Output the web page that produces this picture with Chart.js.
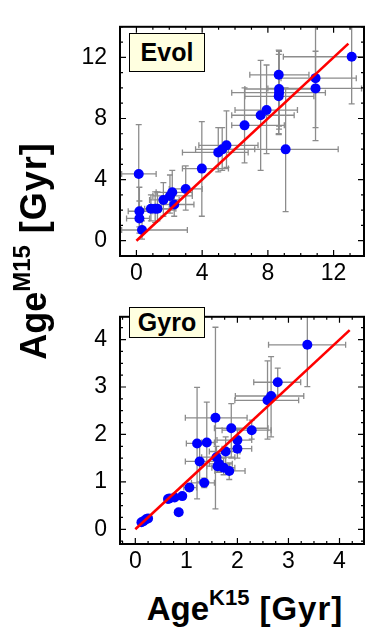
<!DOCTYPE html>
<html>
<head>
<meta charset="utf-8">
<script src="https://cdn.jsdelivr.net/npm/chart.js@4.4.0/dist/chart.umd.min.js"></script>
<style>
  html, body { margin:0; padding:0; background:#fff; }
  #wrap { position:relative; width:369px; height:633px; overflow:hidden; font-family:"Liberation Sans", Arial, sans-serif; }
  canvas { position:absolute; left:0; }
  .tag { position:absolute; box-sizing:border-box; border:1.5px solid #000; background:#ffffe0;
         font-weight:bold; font-size:25px; text-align:center; color:#000; }
  .title { position:absolute; font-weight:bold; font-size:33px; line-height:32px; white-space:nowrap; color:#000; text-align:center; width:300px; }
  .title .sup { font-size:22px; position:relative; top:-15px; }
  .title .unit { padding-left:10px; letter-spacing:1px; }
  #yt { font-size:36px; }
  #yt .sup { font-size:24px; top:-16px; }
  #yt .unit { padding-left:12px; }
</style>
</head>
<body>
<div id="wrap">
  <canvas id="c1" width="369" height="290" style="top:0"></canvas>
  <canvas id="c2" width="369" height="290" style="top:290px"></canvas>
  <div class="tag" style="left:129px; top:33px; width:76px; height:39px; line-height:36px;">Evol</div>
  <div class="tag" style="left:129px; top:307px; width:76px; height:31px; line-height:28px;">Gyro</div>
  <div class="title" id="xt" style="left:95px; top:593px;">Age<span class="sup">K15</span><span class="unit">[Gyr]</span></div>
  <div class="title" id="yt" style="left:-114px; top:233px; transform:rotate(-90deg);">Age<span class="sup">M15</span><span class="unit">[Gyr]</span></div>
</div>
<script>
// ---------- Evol panel data ----------
const evolX   = [0.14,0.18,0.18,0.34,0.88,1.14,1.28,1.64,2.04,2.18,2.30,3.00,3.98,4.98,5.22,5.48,6.58,7.56,7.92,8.66,8.68,8.68,8.66,9.08,10.9,10.9,13.1];
const evolY   = [4.37,1.93,1.46,0.70,2.09,2.09,2.09,2.67,2.93,3.17,2.37,3.39,4.72,5.78,5.98,6.24,7.55,8.21,8.55,10.86,9.93,9.69,9.45,5.98,10.64,9.97,12.04];
const evolXLo = [-0.9,-0.5,-0.6,-0.9,0.3,0.5,0.3,0.8,1.0,1.2,1.5,2.0,2.8,2.8,3.6,3.8,5.8,5.8,6.0,6.9,6.6,5.8,6.6,5.6,8.8,8.0,8.94];
const evolXHi = [1.2,1.0,0.8,3.1,1.5,2.0,2.4,2.6,3.4,3.4,3.5,4.0,5.6,6.8,7.2,7.4,9.0,9.6,9.8,10.5,11.0,11.5,10.8,12.28,13.38,13.7,14.5];
const evolYLo = [1.3,0.9,0.5,0.1,1.3,1.2,1.3,1.6,1.8,2.0,1.6,2.0,1.6,4.5,4.6,4.8,5.1,4.6,5.7,6.95,7.5,7.3,7.0,1.9,6.55,7.4,8.95];
const evolYHi = [7.6,3.5,2.6,1.3,3.0,3.2,3.2,3.8,4.3,4.6,3.1,4.9,7.8,7.4,7.4,8.5,10.0,11.8,11.5,12.47,12.4,12.4,12.2,10.0,14.5,12.4,14.5];
const evolFitX = [0, 12.9];
const evolFitY = [0, 12.9];
const evolTicks = [0, 4, 8, 12];

// ---------- Gyro panel data ----------
const gyroX   = [3.37,2.79,2.66,2.59,1.57,1.88,2.28,1.21,1.40,2.00,2.00,1.77,1.26,1.59,1.64,1.73,1.84,1.61,1.35,1.06,0.92,0.77,0.67,0.64,0.85,0.16,0.21,0.25,0.12];
const gyroY   = [3.89,3.10,2.81,2.72,2.35,2.13,2.09,1.81,1.83,1.88,1.70,1.64,1.43,1.52,1.38,1.30,1.23,1.33,0.98,0.88,0.70,0.67,0.65,0.64,0.36,0.17,0.21,0.23,0.15];
const gyroXLo = [2.61,2.32,1.96,1.95,0.98,1.55,1.70,1.00,1.30,1.60,1.70,1.45,0.98,1.30,1.45,1.50,1.56,1.40,1.10,0.95,0.92,0.77,0.67,0.64,0.78,0.16,0.21,0.25,0.12];
const gyroXHi = [4.12,3.24,3.30,3.20,2.19,2.60,2.66,1.45,1.55,2.28,2.28,2.05,1.57,1.95,1.90,1.95,2.15,1.85,1.55,1.20,0.92,0.77,0.67,0.64,0.92,0.16,0.21,0.25,0.12];
const gyroYLo = [3.01,2.83,1.95,1.90,0.43,1.50,1.90,0.64,1.00,1.65,1.50,1.35,1.00,1.30,1.20,1.15,1.05,1.20,0.88,0.80,0.70,0.67,0.65,0.64,0.36,0.17,0.21,0.23,0.15];
const gyroYHi = [4.60,3.40,3.64,3.55,4.26,2.65,2.30,2.99,2.68,2.10,1.90,1.95,1.80,1.75,1.60,1.50,1.40,1.50,1.08,0.95,0.70,0.67,0.65,0.64,0.36,0.17,0.21,0.23,0.15];
const gyroFitX = [0, 4.2];
const gyroFitY = [0, 4.2];
const gyroTicks = [0, 1, 2, 3, 4];

const FONT = "'Liberation Sans', Arial, sans-serif";

function decoPlugin(err, minorStep) {
  return {
    id: 'deco',
    beforeDatasetsDraw(chart) {
      const {ctx, chartArea: a, scales: {x, y}} = chart;
      ctx.save();
      ctx.beginPath(); ctx.rect(a.left, a.top, a.right - a.left, a.bottom - a.top); ctx.clip();
      ctx.strokeStyle = '#8c8c8c'; ctx.lineWidth = 1.3;
      const cap = 3;
      for (let i = 0; i < err.x.length; i++) {
        const px = x.getPixelForValue(err.x[i]), py = y.getPixelForValue(err.y[i]);
        if (err.xhi[i] > err.xlo[i]) {
          const l = x.getPixelForValue(err.xlo[i]), r = x.getPixelForValue(err.xhi[i]);
          ctx.beginPath();
          ctx.moveTo(l, py); ctx.lineTo(r, py);
          ctx.moveTo(l, py - cap); ctx.lineTo(l, py + cap);
          ctx.moveTo(r, py - cap); ctx.lineTo(r, py + cap);
          ctx.stroke();
        }
        if (err.yhi[i] > err.ylo[i]) {
          const b = y.getPixelForValue(err.ylo[i]), t = y.getPixelForValue(err.yhi[i]);
          ctx.beginPath();
          ctx.moveTo(px, b); ctx.lineTo(px, t);
          ctx.moveTo(px - cap, b); ctx.lineTo(px + cap, b);
          ctx.moveTo(px - cap, t); ctx.lineTo(px + cap, t);
          ctx.stroke();
        }
      }
      ctx.restore();
    },
    afterDraw(chart) {
      const {ctx, chartArea: a, scales: {x, y}} = chart;
      ctx.save();
      ctx.strokeStyle = '#000'; ctx.lineWidth = 1.2;
      const majors = chart.options.plugins.deco.majors;
      const isMajor = v => majors.some(m => Math.abs(m - v) < 1e-6);
      ctx.beginPath();
      for (let k = Math.ceil(x.min / minorStep); k * minorStep <= x.max + 1e-9; k++) {
        const v = k * minorStep, p = x.getPixelForValue(v);
        const len = isMajor(v) ? 6 : 3;
        ctx.moveTo(p, a.bottom); ctx.lineTo(p, a.bottom - len);
        ctx.moveTo(p, a.top); ctx.lineTo(p, a.top + len);
      }
      for (let k = Math.ceil(y.min / minorStep); k * minorStep <= y.max + 1e-9; k++) {
        const v = k * minorStep, p = y.getPixelForValue(v);
        const len = isMajor(v) ? 6 : 3;
        ctx.moveTo(a.left, p); ctx.lineTo(a.left + len, p);
        ctx.moveTo(a.right, p); ctx.lineTo(a.right - len, p);
      }
      ctx.stroke();
      ctx.lineWidth = 2;
      ctx.strokeRect(a.left, a.top, a.right - a.left, a.bottom - a.top);
      ctx.restore();
    }
  };
}

function makeChart(id, X, Y, err, fitX, fitY, ticks, range, minorStep, xh) {
  const pts = X.map((v, i) => ({x: v, y: Y[i]}));
  const fit = fitX.map((v, i) => ({x: v, y: fitY[i]}));
  const tickOpts = {font: {family: FONT, size: 23}, color: '#000'};
  return new Chart(document.getElementById(id), {
    type: 'scatter',
    data: {
      datasets: [
        {data: fit, type: 'line', showLine: true, borderColor: '#ff0000', borderWidth: 2.6,
         pointRadius: 0, fill: false, order: 0, clip: false},
        {data: pts, backgroundColor: '#0000ff', borderWidth: 0, pointRadius: 5, order: 1}
      ]
    },
    options: {
      responsive: false, animation: false, events: [],
      layout: {padding: {top: 6, right: 2, left: 0, bottom: 0}},
      plugins: {legend: {display: false}, tooltip: {enabled: false}, deco: {majors: ticks}},
      scales: {
        x: {type: 'linear', min: range.x[0], max: range.x[1],
            grid: {display: false, drawTicks: false}, border: {display: false},
            ticks: Object.assign({padding: 4, autoSkip: false, maxRotation: 0}, tickOpts),
            afterBuildTicks: s => { s.ticks = ticks.map(v => ({value: v})); },
            afterFit: s => { s.height = xh; }},
        y: {type: 'linear', min: range.y[0], max: range.y[1],
            grid: {display: false, drawTicks: false}, border: {display: false},
            ticks: Object.assign({padding: 13, autoSkip: false}, tickOpts),
            afterBuildTicks: s => { s.ticks = ticks.map(v => ({value: v})); },
            afterFit: s => { s.width = 120; }}
      }
    },
    plugins: [decoPlugin(err, minorStep)]
  });
}

makeChart('c1', evolX, evolY,
  {x: evolX, y: evolY, xlo: evolXLo, xhi: evolXHi, ylo: evolYLo, yhi: evolYHi},
  evolFitX, evolFitY, evolTicks, {x: [-1, 13.85], y: [-1, 14]}, 1, 34);
makeChart('c2', gyroX, gyroY,
  {x: gyroX, y: gyroY, xlo: gyroXLo, xhi: gyroXHi, ylo: gyroYLo, yhi: gyroYHi},
  gyroFitX, gyroFitY, gyroTicks, {x: [-0.3, 4.48], y: [-0.31, 4.48]}, 0.25, 36);
</script>
</body>
</html>
